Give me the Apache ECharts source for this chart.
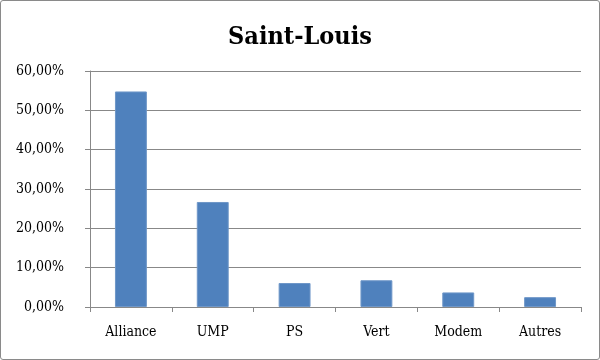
<!DOCTYPE html>
<html><head><meta charset="utf-8">
<script src="https://cdn.jsdelivr.net/npm/echarts@6/dist/echarts.min.js"></script>
<style>html,body{margin:0;padding:0;background:#fff}#c{position:absolute;left:0;top:0;width:598px;height:358px;border:1px solid #8a8a8a;border-radius:3px}</style>
</head><body><div id="c"></div>
<script>
const title = "Saint-Louis";
const categories = ["Alliance","UMP","PS","Vert","Modem","Autres"];
const values = [54.8, 26.7, 6.1, 6.8, 3.7, 2.5];
const yMin = 0, yMax = 60, yStep = 10;
const chart = echarts.init(document.getElementById('c'));
const font = '"DejaVu Serif Condensed", "DejaVu Serif", "Liberation Serif", serif';
chart.setOption({
  animation:false,
  title:{text:title,left:'center',top:19,textStyle:{fontFamily:font,fontWeight:'bold',fontSize:25,color:'#000'}},
  grid:{left:89,right:18,top:70,bottom:52},
  xAxis:{type:'category',data:categories,
    axisLine:{lineStyle:{color:'#888',width:1}},
    axisTick:{show:true,length:5,inside:false,lineStyle:{color:'#888'}},
    axisLabel:{margin:18,fontFamily:font,fontSize:14,color:'#000'}},
  yAxis:{type:'value',min:yMin,max:yMax,interval:yStep,
    axisLine:{show:true,lineStyle:{color:'#888',width:1}},
    axisTick:{show:true,length:5,lineStyle:{color:'#888'}},
    splitLine:{lineStyle:{color:'#888',width:1}},
    axisLabel:{margin:26,fontFamily:font,fontSize:14,color:'#000',
      formatter:v=>v.toFixed(2).replace('.',',')+'%'}},
  series:[{type:'bar',data:values,barWidth:'39%',
    itemStyle:{color:'#4F81BD',borderColor:'#6f97c8',borderWidth:1}}]
});
</script></body></html>
